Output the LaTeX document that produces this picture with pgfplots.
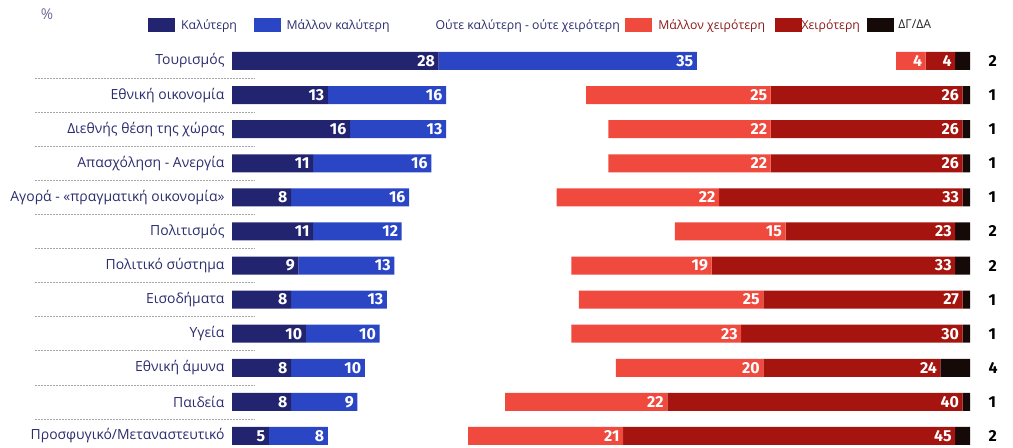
\documentclass[border=0pt]{standalone}
\usepackage{fontspec}
\setmainfont{Open Sans}
\newfontfamily\numfont{Fira Sans}
\usepackage{pgfplots}
\usepackage{pgfplotstable}
\pgfplotsset{compat=1.18}
\definecolor{cKal}{HTML}{232470}
\definecolor{cMKal}{HTML}{2A46C4}
\definecolor{cMX}{HTML}{F04A3E}
\definecolor{cX}{HTML}{A5140E}
\definecolor{cDK}{HTML}{150A08}
\definecolor{cLab}{HTML}{2B2D6E}
\definecolor{cRedT}{HTML}{8B1A1A}
\pgfplotstableread{
row kal mkal neu mx x dk
1 28 35 27 4 4 2
2 13 16 19 25 26 1
3 16 13 22 22 26 1
4 11 16 24 22 26 1
5 8 16 20 22 33 1
6 11 12 37 15 23 2
7 9 13 24 19 33 2
8 8 13 26 25 27 1
9 10 10 26 23 30 1
10 8 10 34 20 24 4
11 8 9 20 22 40 1
12 5 8 19 21 45 2
}\data
\pgfplotstablecreatecol[expr={\thisrow{kal}+\thisrow{mkal}}]{e2}\data
\pgfplotstablecreatecol[expr={\thisrow{e2}+\thisrow{neu}+\thisrow{mx}}]{e4}\data
\pgfplotstablecreatecol[expr={\thisrow{e4}+\thisrow{x}}]{e5}\data
\pgfplotstablecreatecol[expr={\thisrow{e5}+\thisrow{dk}}]{e6}\data
\pgfplotsset{
  common/.style={at={(232bp,1.8bp)}, anchor=south west,
    scale only axis, width=738bp, height=402.25bp,
    xmin=0, xmax=100, ymin=0.5, ymax=12.3, y dir=reverse, clip=false},
  legA/.style={legend image code/.code={\fill[##1] (0bp,-7bp) rectangle (27bp,7bp);}},
  legN/.style={legend image code/.code={\path (0bp,-7bp) rectangle (27bp,7bp);}},
}
\begin{document}
\begin{tikzpicture}
\useasboundingbox (0,0) rectangle (1013bp,448bp);
\node[anchor=center, text=cLab!70, font=\fontsize{15}{15}\selectfont] at (47bp,434bp) {\%};
\begin{axis}[
  common,
  xbar stacked, bar width=18bp,
  axis line style={draw=none}, tick style={draw=none},
  xtick=\empty, ytick={1,...,12},
  yticklabels={Τουρισμός, Εθνική οικονομία, Διεθνής θέση της χώρας, Απασχόληση - Ανεργία, Αγορά - «πραγματική οικονομία», Πολιτισμός, Πολιτικό σύστημα, Εισοδήματα, Υγεία, Εθνική άμυνα, Παιδεία, Προσφυγικό/Μεταναστευτικό},
  yticklabel style={font=\fontsize{14}{14}\selectfont, text=cLab, anchor=east, xshift=-4bp},
  legA,
  legend columns=6,
  legend style={at={(axis description cs:-0.1138,1.047)}, anchor=west, draw=none, fill=none, inner sep=0pt,
    font=\fontsize{12.3}{13}\selectfont,
    nodes={inner sep=1.5bp},
    /tikz/every even column/.append style={column sep=7bp}},
  legend cell align=left,
]
\addplot[fill=cKal, draw=none] table[x=kal, y=row]{\data};
\addlegendentry{\kern4.5bp\textcolor{cLab}{Καλύτερη}\kern8bp}
\addplot[fill=cMKal, draw=none] table[x=mkal, y=row]{\data};
\addlegendentry{\kern4.5bp\textcolor{cLab}{Μάλλον καλύτερη}}
\addplot[fill=none, draw=none, legN] table[x=neu, y=row]{\data};
\addlegendentry{\kern9bp\textcolor{cLab}{Ούτε καλύτερη - ούτε χειρότερη}\kern-3bp}
\addplot[fill=cMX, draw=none] table[x=mx, y=row]{\data};
\addlegendentry{\kern4.5bp\textcolor{cRedT}{Μάλλον χειρότερη}\kern1bp}
\addplot[fill=cX, draw=none] table[x=x, y=row]{\data};
\addlegendentry{\kern-1.5bp\textcolor{cRedT}{Χειρότερη}\kern-1bp}
\addplot[fill=cDK, draw=none] table[x=dk, y=row]{\data};
\addlegendentry{\kern2.5bp\textcolor{black!85}{ΔΓ/ΔΑ}}
\pgfplotsinvokeforeach{1.5,2.5,3.5,4.5,5.5,6.5,7.5,8.5,9.5,10.5,11.5}{
  \draw[black!35, line width=0.6bp, dash pattern=on 2bp off 1bp] (axis cs:-26.7,#1) -- (axis cs:3.1,#1);
}
\end{axis}
\begin{axis}[
  common, hide axis,
  point meta=explicit,
  /pgf/number format/assume math mode=true,
  vlab/.style={sharp plot, draw=none, mark=none,
    nodes near coords,
    nodes near coords style={font=\numfont\bfseries\fontsize{16}{16}\selectfont, text=white, anchor=east, xshift=-2.5bp, inner sep=1bp}},
]
\addplot[vlab] table[x=kal, y=row, meta=kal]{\data};
\addplot[vlab] table[x=e2, y=row, meta=mkal]{\data};
\addplot[vlab] table[x=e4, y=row, meta=mx]{\data};
\addplot[vlab] table[x=e5, y=row, meta=x]{\data};
\addplot[vlab, nodes near coords style={text=black, anchor=west, xshift=20bp}] table[x=e6, y=row, meta=dk]{\data};
\end{axis}
\end{tikzpicture}
\end{document}
